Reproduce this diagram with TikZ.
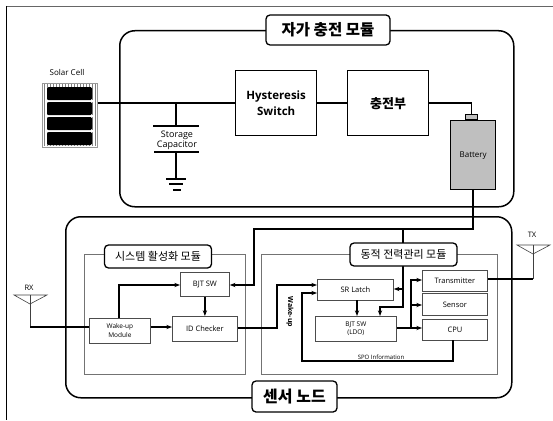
\documentclass[tikz,border=0pt]{standalone}
\usepackage{fontspec}
\setmainfont{Open Sans}
\newfontfamily\krfont{Noto Sans CJK KR}
\usetikzlibrary{arrows.meta, positioning}

\begin{document}
\begin{tikzpicture}[
  x=1pt, y=-1pt,
  module/.style={draw, line width=1.5pt, rounded corners=15pt, anchor=north west, inner sep=0pt},
  group/.style={draw=black!55, line width=0.8pt, anchor=north west, inner sep=0pt},
  title/.style={draw, line width=1.3pt, rounded corners=4pt, fill=white, inner sep=0pt},
  block/.style={draw, line width=1.3pt, anchor=north west, inner sep=0pt, fill=white, align=center},
  sub/.style={draw=black!70, line width=0.8pt, anchor=north west, inner sep=0pt, fill=white, align=center, font=\fontsize{7.5}{9}\selectfont},
  wire/.style={line width=1.3pt},
  arr/.style={-{Stealth[length=2mm]}, line width=1.5pt},
  thinwire/.style={line width=0.6pt, draw=black!75},
  lab/.style={font=\fontsize{7.5}{9}\selectfont, inner sep=0pt},
]
  \useasboundingbox (0,0) rectangle (553,420);
  % frame
  \draw[black!60, line width=0.8pt] (553,6) -- (6,6);
  \draw[line width=0.8pt] (6,6) -- (6,420);

  % charging module
  \node[module, minimum width=394pt, minimum height=176pt] (chg) at (119,30) {};
  \node[title, minimum width=124pt, minimum height=30pt, font=\krfont\bfseries\fontsize{15.5}{17}\selectfont] (chgtitle) at (328,30) {자가 충전 모듈};

  % solar cell
  \node[anchor=north west, draw=black!40, fill=white, line width=0.6pt, minimum width=55pt, minimum height=64pt, inner sep=0pt] (solar) at (42,83) {};
  \foreach \i in {44,47,...,95} { \draw[black!50, line width=0.7pt] (\i,84) -- (\i,146); }
  \fill[white] (45,100) rectangle (94,102) (45,115) rectangle (94,117) (45,130) rectangle (94,132);
  \foreach \y in {87,102,117,132} {
    \fill[black, rounded corners=1.5pt] (47,\y) rectangle (92,\y+13);
  }
  \node[lab, font=\fontsize{8}{9}\selectfont] (solarlab) at (67,72) {Solar Cell};

  \node[block, minimum width=81pt, minimum height=65pt, font=\bfseries\fontsize{11.5}{16}\selectfont] (hyst) at (235,70) {Hysteresis\\Switch};
  \node[block, minimum width=81pt, minimum height=65pt, font=\krfont\bfseries\fontsize{13}{15}\selectfont] (charger) at (347,70) {충전부};
  \node[anchor=north west, draw, fill=black!25, line width=0.8pt, minimum width=12pt, minimum height=5pt, inner sep=0pt] (cap) at (465,114) {};
  \node[block, fill=black!25, minimum width=45pt, minimum height=69pt, font=\fontsize{8}{9}\selectfont] (batt) at (450,120) {Battery};

  % storage capacitor
  \coordinate (tap) at (176,103);
  \coordinate (platea) at (176,126);
  \coordinate (plateb) at (176,152);
  \coordinate (gnd) at (176,179);
  \draw[wire] (solar.east |- tap) -- (hyst.west |- tap);
  \draw[wire] (tap) -- (platea);
  \draw[wire] (153,126) -- (199,126);
  \draw[wire] (154,152) -- (199,152);
  \draw[wire] (plateb) -- (gnd);
  \draw[wire] (166,179) -- (186,179);
  \draw[wire] (169,184) -- (183,184);
  \draw[wire] (173,190) -- (181,190);
  \node[lab, align=center, font=\fontsize{9}{10}\selectfont] (storelab) at (177,140) {Storage\\Capacitor};

  \draw[wire] (hyst.east |- tap) -- (charger.west |- tap);
  \draw[wire] (charger.east |- tap) -| (cap.north);

  % sensor node
  \node[module, minimum width=446pt, minimum height=181pt] (node) at (65,216) {};
  \node[group, minimum width=161pt, minimum height=120pt] (act) at (84,254) {};
  \node[group, minimum width=236pt, minimum height=120pt] (pwr) at (261,254) {};

  \node[sub, minimum width=49pt, minimum height=24pt] (bjt) at (180,272) {BJT SW};
  \node[sub, minimum width=61pt, minimum height=25pt, font=\fontsize{6.5}{9}\selectfont] (wake) at (89,318) {Wake-up\\Module};
  \node[sub, minimum width=65pt, minimum height=25pt] (idc) at (172,316) {ID Checker};
  \node[sub, minimum width=76pt, minimum height=21pt] (sr) at (317,279) {SR Latch};
  \node[sub, minimum width=81pt, minimum height=25pt, font=\fontsize{6.5}{8.5}\selectfont] (ldo) at (315,316) {BJT SW\\(LDO)};
  \node[sub, minimum width=65pt, minimum height=21pt] (tx) at (422,270) {Transmitter};
  \node[sub, minimum width=65pt, minimum height=22pt] (sens) at (422,293) {Sensor};
  \node[sub, minimum width=65pt, minimum height=21pt] (cpu) at (422,319) {CPU};

  \node[lab, font=\bfseries\fontsize{7}{8}\selectfont, rotate=-90] (wakelab) at (290,312) {Wake-up};
  \node[lab, font=\fontsize{6}{7}\selectfont] (spo) at (381,357) {SPO Information};

  % antennas
  \coordinate (rxtip) at (30,304);
  \coordinate (rxfoot) at (30,327);
  \draw[thinwire] (14,295) -- (47,295) -- (rxtip) -- cycle;
  \draw[thinwire] (30,295) -- (rxfoot);
  \node[lab] (rx) at (29,288) {RX};
  \coordinate (txtip) at (533,254);
  \coordinate (txfoot) at (533,279);
  \draw[thinwire] (517,245) -- (550,245) -- (txtip) -- cycle;
  \draw[thinwire] (533,245) -- (txfoot);
  \node[lab] (txl) at (532,235) {TX};

  % power from battery
  \coordinate (busa) at (403,229);
  \coordinate (busb) at (403,307);
  \coordinate (busc) at (254,229);
  \draw[line width=1.5pt] (batt.south) -- (batt.south |- busa) -- (busa);
  \draw[arr] (busa) -- (busc) -- (254,285) -- (bjt.east |- 0,285);
  \draw[arr] (busa) -- (busb) -- (380,307) -- (380,316);
  \draw[arr] (403,289) -- (sr.east |- 0,289);

  % signals
  \draw[line width=1.5pt] (rxfoot) -- (wake.west |- rxfoot);
  \draw[arr] (wake.east |- rxfoot) -- (idc.west |- rxfoot);
  \draw[arr] (119,318) -- (119,285) -- (bjt.west |- 0,285);
  \draw[arr] (bjt.south) -- (bjt.south |- idc.north);
  \draw[arr] (idc.east |- 0,328) -- (277,328) -- (277,285) -- (sr.west |- 0,285);
  \draw[arr] (357,300) -- (357,316);
  \draw[arr] (ldo.east |- 0,328) -- (cpu.west |- 0,328);
  \draw[arr] (411,328) -- (411,280) -- (tx.west |- 0,280);
  \draw[arr] (411,305) -- (sens.west |- 0,305);
  \draw[line width=1.5pt] (tx.east |- txfoot) -- (txfoot);
  \draw[arr] (453,340) -- (453,361) -- (302,361) -- (302,293) -- (sr.west |- 0,293);

  % titles over the wires
  \node[title, minimum width=107pt, minimum height=23pt, font=\krfont\fontsize{11}{13}\selectfont] (acttitle) at (158,256.5) {시스템 활성화 모듈};
  \node[title, minimum width=107pt, minimum height=23pt, font=\krfont\fontsize{11}{13}\selectfont] (pwrtitle) at (403.5,254.5) {동적 전력관리 모듈};
  \node[title, minimum width=85pt, minimum height=31pt, font=\krfont\bfseries\fontsize{16}{18}\selectfont] (nodetitle) at (294.5,396.5) {센서 노드};
\end{tikzpicture}
\end{document}
